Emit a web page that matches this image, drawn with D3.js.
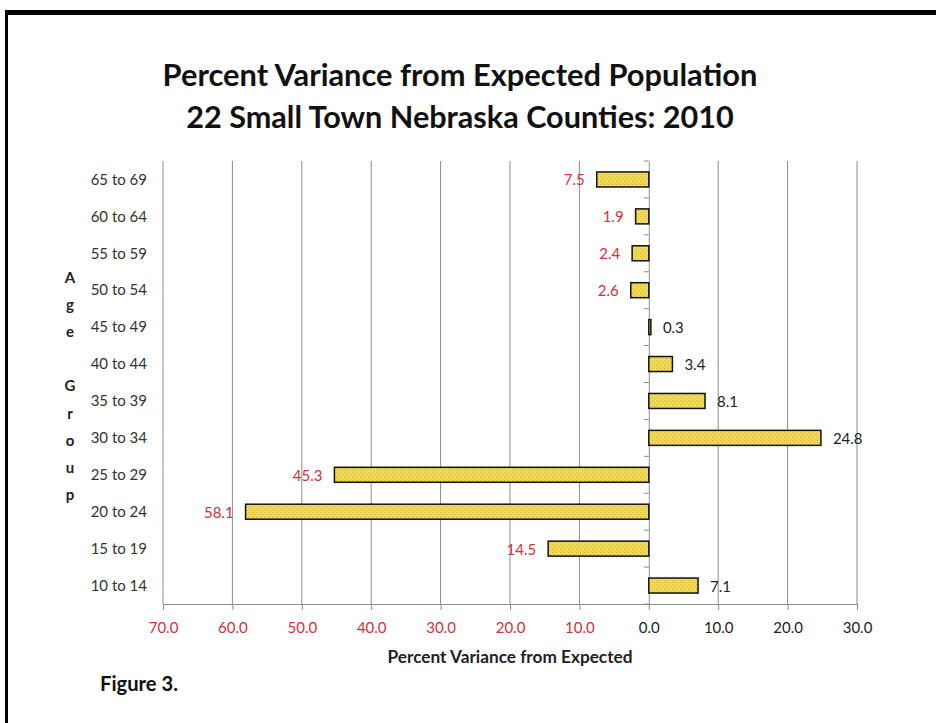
<!DOCTYPE html>
<html><head><meta charset="utf-8">
<script src="https://cdn.jsdelivr.net/npm/d3@7"></script>
<style>body{margin:0;background:#fff}svg{display:block}</style>
</head><body>
<svg id="c" width="936" height="723"></svg>
<script>
const categories = ["65 to 69","60 to 64","55 to 59","50 to 54","45 to 49","40 to 44","35 to 39","30 to 34","25 to 29","20 to 24","15 to 19","10 to 14"];
const values = [-7.5,-1.9,-2.4,-2.6,0.3,3.4,8.1,24.8,-45.3,-58.1,-14.5,7.1];
const xTicks = [-70,-60,-50,-40,-30,-20,-10,0,10,20,30];
const titleLines = ["Percent Variance from Expected Population","22 Small Town Nebraska Counties: 2010"];
const yTitle = ["A","g","e"," ","G","r","o","u","p"];
const xTitle = "Percent Variance from Expected";
const figLabel = "Figure 3.";

const svg = d3.select("#c");
const F = "Lato, 'Open Sans', sans-serif";
const red = "#d6303a";
const m = {left:163, right:857, top:161, bottom:604};

function fit(sel, w){
  const n = sel.node();
  let fs = parseFloat(sel.attr("font-size"));
  const cur = n.getComputedTextLength();
  if (cur>0) sel.attr("font-size", fs*w/cur);
}

// frame
svg.append("rect").attr("x",5).attr("y",10).attr("width",940).attr("height",5).attr("fill","#000");
svg.append("rect").attr("x",5).attr("y",10).attr("width",3).attr("height",720).attr("fill","#000");

// pattern
const defs = svg.append("defs");
const pat = defs.append("pattern").attr("id","dots").attr("width",4).attr("height",4).attr("patternUnits","userSpaceOnUse");
pat.append("rect").attr("width",4).attr("height",4).attr("fill","#f2da52");
pat.append("rect").attr("x",0).attr("y",0).attr("width",1).attr("height",1).attr("fill","#c4ad48");
pat.append("rect").attr("x",2).attr("y",2).attr("width",1).attr("height",1).attr("fill","#c4ad48");

const x = d3.scaleLinear().domain([-70,30]).range([m.left, m.right]);
const yb = d3.scaleBand().domain(categories).range([m.top, m.bottom]);

// gridlines
svg.append("g").selectAll("line").data(xTicks.filter(d=>d!==0)).join("line")
  .attr("x1",d=>x(d)).attr("x2",d=>x(d)).attr("y1",m.top).attr("y2",m.bottom)
  .attr("stroke","#8c8c8c").attr("stroke-width",1);

// x axis
const xa = svg.append("g").attr("transform",`translate(0,${m.bottom})`)
  .call(d3.axisBottom(x).tickValues(xTicks).tickSize(6).tickPadding(12).tickFormat(d=>Math.abs(d).toFixed(1)));
xa.select(".domain").attr("stroke","#8c8c8c");
xa.selectAll(".tick line").attr("stroke","#8c8c8c");
xa.selectAll(".tick text").attr("font-family",F).attr("font-size",15)
  .attr("fill",d=>d<0?red:"#222");

// zero axis with ticks to the left
const ya = svg.append("g").attr("transform",`translate(${x(0)},0)`)
  .call(d3.axisLeft(yb).tickSize(0).tickFormat(""));
ya.select(".domain").attr("stroke","#8c8c8c");
svg.append("g").selectAll("line").data(d3.range(categories.length+1)).join("line")
  .attr("x1",x(0)-5).attr("x2",x(0)).attr("y1",i=>m.top+i*yb.step()).attr("y2",i=>m.top+i*yb.step())
  .attr("stroke","#8c8c8c");

// category labels
svg.append("g").selectAll("text").data(categories).join("text")
  .attr("x",147).attr("y",d=>yb(d)+yb.bandwidth()/2).attr("dy","0.35em")
  .attr("text-anchor","end").attr("font-family",F).attr("font-size",15).attr("fill","#333").text(d=>d);

// bars
svg.append("g").selectAll("rect").data(values).join("rect")
  .attr("x",d=>x(Math.min(0,d))).attr("width",d=>Math.abs(x(d)-x(0)))
  .attr("y",(d,i)=>yb(categories[i])+yb.bandwidth()/2-7.5).attr("height",15)
  .attr("fill","url(#dots)").attr("stroke","#111").attr("stroke-width",1.5);

// value labels
svg.append("g").selectAll("text").data(values).join("text")
  .attr("x",d=>d<0?x(d)-12:x(d)+12)
  .attr("y",(d,i)=>yb(categories[i])+yb.bandwidth()/2).attr("dy","0.4em")
  .attr("text-anchor",d=>d<0?"end":"start")
  .attr("font-family",F).attr("font-size",15).attr("fill",d=>d<0?red:"#222")
  .text(d=>Math.abs(d).toFixed(1));

// titles
const t1 = svg.append("text").attr("x",460).attr("y",86).attr("text-anchor","middle")
  .attr("font-family",F).attr("font-weight","bold").attr("font-size",24).attr("fill","#111").text(titleLines[0]);
fit(t1,595);
const t2 = svg.append("text").attr("x",460).attr("y",128).attr("text-anchor","middle")
  .attr("font-family",F).attr("font-weight","bold").attr("font-size",24).attr("fill","#111").text(titleLines[1]);
fit(t2,548);

// y title stacked
svg.append("g").selectAll("text").data(yTitle).join("text")
  .attr("x",70).attr("y",(d,i)=>283+i*27.1).attr("text-anchor","middle")
  .attr("font-family",F).attr("font-weight","bold").attr("font-size",15).attr("fill","#222").text(d=>d);

// x title
const xt = svg.append("text").attr("x",510).attr("y",663).attr("text-anchor","middle")
  .attr("font-family",F).attr("font-weight","bold").attr("font-size",13).attr("fill","#222").text(xTitle);
fit(xt,245);

const fl = svg.append("text").attr("x",100).attr("y",691)
  .attr("font-family",F).attr("font-weight","bold").attr("font-size",19).attr("fill","#111").text(figLabel);
fit(fl,78);
</script>
</body></html>
